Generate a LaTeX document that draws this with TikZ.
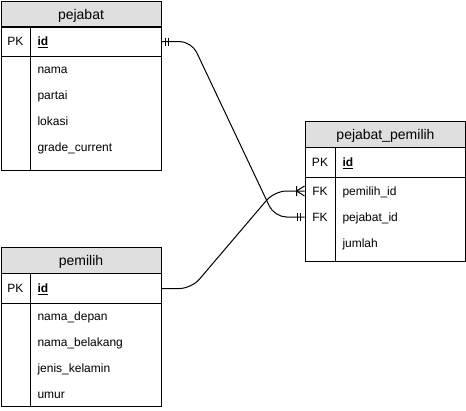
\documentclass[tikz,border=0pt]{standalone}
\usepackage{fontspec}
\setmainfont{Liberation Sans}
\tikzset{
  tblhead/.style={draw, fill=gray!25, anchor=north west, minimum width=160pt, minimum height=26pt, inner sep=0pt, text height=10pt, text depth=0pt, font=\fontsize{14}{16}\selectfont},
  tblrow/.style={draw, anchor=north west, minimum width=160pt, inner sep=0pt},
  keycell/.style={minimum width=30pt, inner sep=0pt, text height=8.6pt, text depth=0pt, font=\fontsize{12}{14}\selectfont},
  field/.style={anchor=west, inner sep=0pt, text height=8.6pt, text depth=0pt, font=\fontsize{12}{14}\selectfont},
  keyfield/.style={field, font=\fontsize{12}{14}\selectfont\bfseries},
  rel/.style={draw, rounded corners=12pt},
  mandone/.pic={\draw (4,-4) -- (4,4) (7,-4) -- (7,4);},
  onemany/.pic={\draw (8,-5) -- (8,5) (8,0) -- (0,-5) (8,0) -- (0,5);}
}
\begin{document}
\begin{tikzpicture}[x=1pt, y=-1pt, line width=1pt]
 \useasboundingbox (0,0) rectangle (466,410);
 \node[tblhead] (pjhead) at (0.5,1) {pejabat};
 \node[tblrow, minimum height=30pt] (pjpk) at (0.5,26) {};
 \node[tblrow, minimum height=114pt] (pjbody) at (0.5,56) {};
 \draw ([xshift=30pt]pjpk.north west) -- ([xshift=30pt]pjbody.south west);
 \node[keycell] (pjkey) at (15.5,41) {PK};
 \node[keyfield] (pjid) at (37,41) {\underline{id}};
 \node[field] (pjnama) at (37,69) {nama};
 \node[field] (pjpartai) at (37,95) {partai};
 \node[field] (pjlokasi) at (37,121) {lokasi};
 \node[field] (pjgrade) at (37,147) {grade\_current};

 \node[tblhead] (pmhead) at (0.5,247) {pemilih};
 \node[tblrow, minimum height=30pt] (pmpk) at (0.5,273) {};
 \node[tblrow, minimum height=103pt] (pmbody) at (0.5,303) {};
 \draw ([xshift=30pt]pmpk.north west) -- ([xshift=30pt]pmbody.south west);
 \node[keycell] (pmkey) at (15.5,288) {PK};
 \node[keyfield] (pmid) at (37,288) {\underline{id}};
 \node[field] (pmdepan) at (37,316) {nama\_depan};
 \node[field] (pmbelakang) at (37,342) {nama\_belakang};
 \node[field] (pmkelamin) at (37,368) {jenis\_kelamin};
 \node[field] (pmumur) at (37,394) {umur};

 \node[tblhead] (pphead) at (305,121) {pejabat\_pemilih};
 \node[tblrow, minimum height=30pt] (pppk) at (305,147) {};
 \node[tblrow, minimum height=84pt] (ppbody) at (305,177) {};
 \draw ([xshift=30pt]pppk.north west) -- ([xshift=30pt]ppbody.south west);
 \node[keycell] (ppkey) at (320,162) {PK};
 \node[keyfield] (ppid) at (342,162) {\underline{id}};
 \node[keycell] (ppfk1) at (320,191) {FK};
 \node[field] (pppemilih) at (342,191) {pemilih\_id};
 \node[keycell] (ppfk2) at (320,217) {FK};
 \node[field] (pppejabat) at (342,217) {pejabat\_id};
 \node[field] (ppjumlah) at (342,243) {jumlah};

 \draw[rel] (pjpk.east) -- ++(30,0) -- ([xshift=-30pt]ppfk2.west) -- (ppfk2.west);
 \draw[rel] (pmpk.east) -- ++(30,0) -- ([xshift=-30pt]ppfk1.west) -- (ppfk1.west);
 \pic at (pjpk.east) {mandone};
 \pic[xscale=-1] at (ppfk2.west) {mandone};
 \pic[xscale=-1] at (ppfk1.west) {onemany};
\end{tikzpicture}
\end{document}
